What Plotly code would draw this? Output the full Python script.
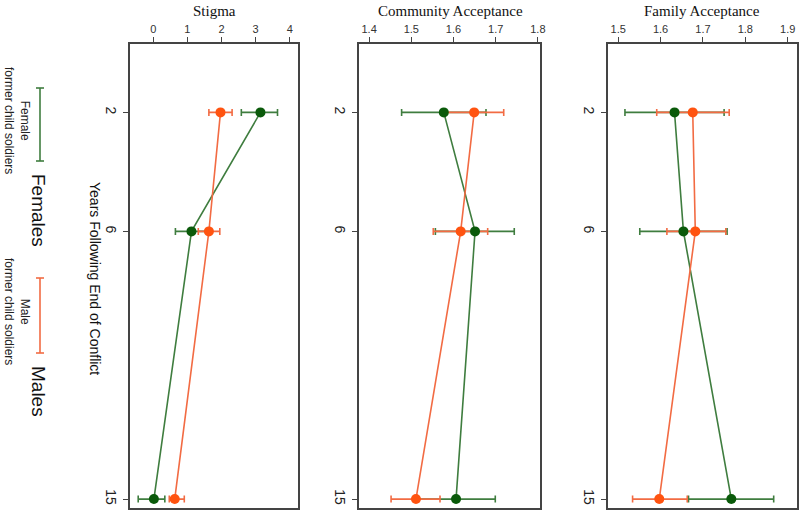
import plotly.graph_objects as go

years = [2, 6, 15]
year_ticks = [2, 6, 15]
panels = ["Stigma", "Community Acceptance", "Family Acceptance"]

# Stigma
stig_f = [3.14, 1.12, 0.02]
stig_f_lo = [2.58, 0.65, -0.44]
stig_f_hi = [3.64, 1.59, 0.34]
stig_m = [1.97, 1.63, 0.63]
stig_m_lo = [1.63, 1.32, 0.47]
stig_m_hi = [2.31, 1.95, 0.91]

# Community acceptance
comm_f = [1.577, 1.651, 1.606]
comm_f_lo = [1.477, 1.557, 1.513]
comm_f_hi = [1.677, 1.744, 1.699]
comm_m = [1.649, 1.617, 1.511]
comm_m_lo = [1.579, 1.552, 1.452]
comm_m_hi = [1.719, 1.681, 1.568]

# Family acceptance
fam_f = [1.633, 1.654, 1.767]
fam_f_lo = [1.516, 1.551, 1.666]
fam_f_hi = [1.750, 1.757, 1.867]
fam_m = [1.676, 1.682, 1.597]
fam_m_lo = [1.591, 1.615, 1.534]
fam_m_hi = [1.762, 1.754, 1.663]

x_ranges = [[-0.68, 4.24], [1.376, 1.805], [1.476, 1.922]]
x_ticks = [[0, 1, 2, 3, 4], [1.4, 1.5, 1.6, 1.7, 1.8], [1.5, 1.6, 1.7, 1.8, 1.9]]

GREEN_LINE = "#3f7d3f"
GREEN_DOT = "#0a5a0a"
ORANGE_LINE = "#f26b43"
ORANGE_DOT = "#ff5310"

W, H = 800, 512
px_domains = [(130, 298), (359, 540), (608, 797)]
top_px, bot_px = 44, 508

data = [
    (stig_f, stig_f_lo, stig_f_hi, stig_m, stig_m_lo, stig_m_hi),
    (comm_f, comm_f_lo, comm_f_hi, comm_m, comm_m_lo, comm_m_hi),
    (fam_f, fam_f_lo, fam_f_hi, fam_m, fam_m_lo, fam_m_hi),
]

fig = go.Figure()

for i, (f, flo, fhi, m, mlo, mhi) in enumerate(data):
    xa = "x" if i == 0 else f"x{i+1}"
    ya = "y" if i == 0 else f"y{i+1}"
    for vals, lo, hi, lc in [(f, flo, fhi, GREEN_LINE), (m, mlo, mhi, ORANGE_LINE)]:
        fig.add_trace(go.Scatter(
            x=vals, y=years, mode="lines", xaxis=xa, yaxis=ya,
            line=dict(color=lc, width=1.6), showlegend=False, hoverinfo="skip",
            error_x=dict(type="data", symmetric=False,
                         array=[h - v for h, v in zip(hi, vals)],
                         arrayminus=[v - l for v, l in zip(vals, lo)],
                         color=lc, thickness=1.6, width=3.5),
        ))
    for vals, dc in [(f, GREEN_DOT), (m, ORANGE_DOT)]:
        fig.add_trace(go.Scatter(
            x=vals, y=years, mode="markers", xaxis=xa, yaxis=ya,
            marker=dict(color=dc, size=10), showlegend=False,
        ))

layout = dict(
    width=W, height=H, margin=dict(l=0, r=0, t=0, b=0, autoexpand=False),
    paper_bgcolor="white", plot_bgcolor="white", showlegend=False,
    font=dict(family="Liberation Sans, Arial, sans-serif", color="#222"),
)
for i in range(3):
    sx = "xaxis" if i == 0 else f"xaxis{i+1}"
    sy = "yaxis" if i == 0 else f"yaxis{i+1}"
    ya = "y" if i == 0 else f"y{i+1}"
    xa = "x" if i == 0 else f"x{i+1}"
    l, r = px_domains[i]
    layout[sx] = dict(
        domain=[l / W, r / W], anchor=ya, side="top", range=x_ranges[i], automargin=False,
        tickvals=x_ticks[i], ticktext=[str(t) for t in x_ticks[i]],
        ticks="outside", ticklen=5, tickcolor="#444", tickwidth=1,
        showline=True, mirror=True, linecolor="#444", linewidth=1.5,
        showgrid=False, zeroline=False, tickfont=dict(size=11, color="#333"),
    )
    layout[sy] = dict(
        domain=[1 - bot_px / H, 1 - top_px / H], anchor=xa, range=[15.3, -0.3], automargin=False,
        tickvals=year_ticks, ticktext=[str(t) for t in year_ticks], tickangle=90,
        ticks="outside", ticklen=5, tickcolor="#444", tickwidth=1,
        showline=True, mirror=True, linecolor="#444", linewidth=1.5,
        showgrid=False, zeroline=False, tickfont=dict(size=14, color="#222"),
    )
fig.update_layout(**layout)

title_x = [214, 450, 702]
for t, cx in zip(panels, title_x):
    fig.add_annotation(text=t, x=cx / W, y=1 - 11 / H, xref="paper", yref="paper",
                       showarrow=False, xanchor="center", yanchor="middle",
                       font=dict(family="Liberation Serif, Times New Roman, serif", size=15, color="#111"))

fig.add_annotation(text="Years Following End of Conflict", x=95 / W, y=1 - 278 / H,
                   xref="paper", yref="paper", showarrow=False, textangle=90,
                   xanchor="center", yanchor="middle", font=dict(size=14, color="#111"))

# legend
legend_items = [
    ("Female<br>former child soldiers", "Females", GREEN_LINE, 88, 161, 120, 210),
    ("Male<br>former child soldiers", "Males", ORANGE_LINE, 278, 353, 311, 391),
]
for small, big, col, y0, y1, ys, yb in legend_items:
    x0 = 40
    fig.add_shape(type="line", xref="paper", yref="paper", x0=x0 / W, x1=x0 / W,
                  y0=1 - y0 / H, y1=1 - y1 / H, line=dict(color=col, width=1.6))
    for yy in (y0, y1):
        fig.add_shape(type="line", xref="paper", yref="paper", x0=(x0 - 4) / W, x1=(x0 + 4) / W,
                      y0=1 - yy / H, y1=1 - yy / H, line=dict(color=col, width=1.6))
    fig.add_annotation(text=small, x=17 / W, y=1 - ys / H, xref="paper", yref="paper",
                       showarrow=False, textangle=90, xanchor="center", yanchor="middle",
                       align="center", font=dict(size=12, color="#222"))
    fig.add_annotation(text=big, x=39 / W, y=1 - yb / H, xref="paper", yref="paper",
                       showarrow=False, textangle=90, xanchor="center", yanchor="middle",
                       font=dict(size=19, color="#111"))

fig.write_html("out.html", config={"displayModeBar": False},
               post_script="document.body.style.margin='0';document.body.style.overflow='hidden';")
